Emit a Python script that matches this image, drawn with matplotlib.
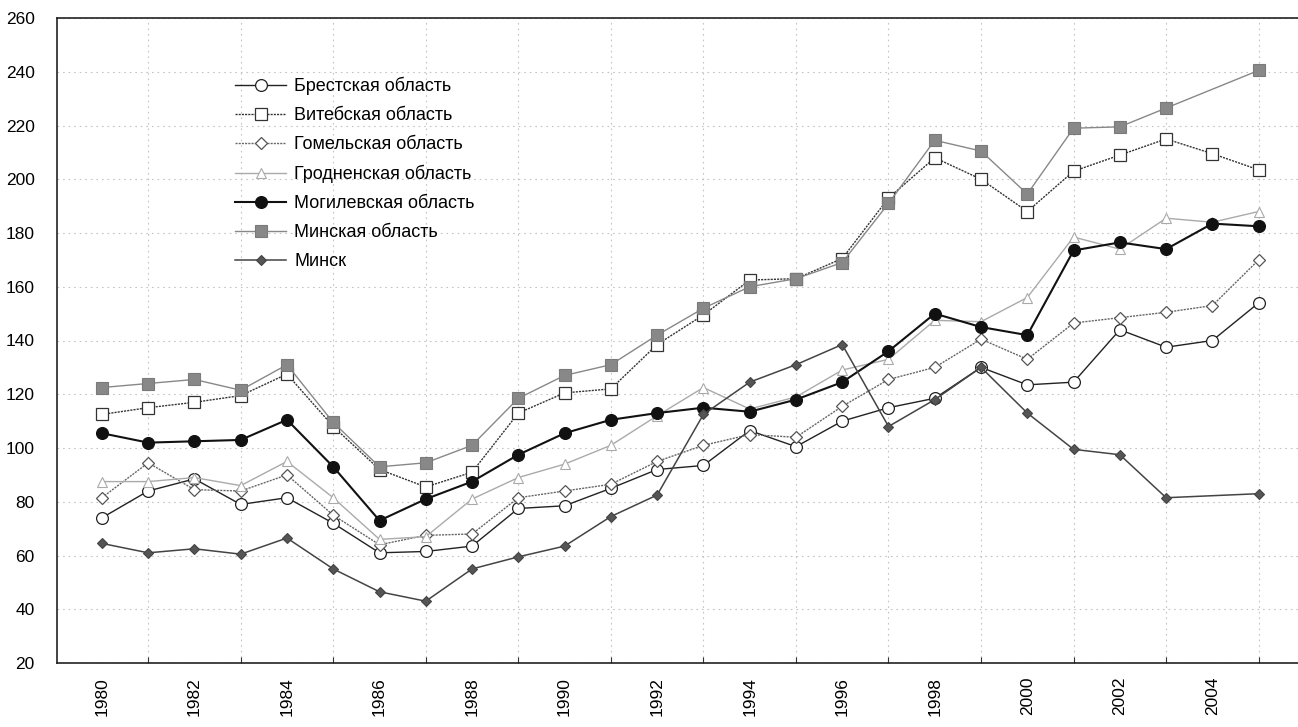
import numpy as np
import matplotlib
matplotlib.use("Agg")
import matplotlib.pyplot as plt

years = list(range(1980, 2006))

brest = [74, 84, 88.5, 79, 81.5, 72, 61, 61.5, 63.5, 77.5, 78.5, 85, 92, 93.5, 106.5, 100.5,
         110, 115, 118.5, 130, 123.5, 124.5, 144, 137.5, 140, 154]
vitebsk = [112.5, 115, 117, 119.5, 127.5, 108, 92, 85.5, 91, 113, 120.5, 122, 138.5, 149.5, 162.5, 163,
           170.5, 193, 208, 200, 188, 203, 209, 215, 209.5, 203.5]
gomel = [81.5, 94.5, 84.5, 84, 90, 75, 64, 67.5, 68, 81.5, 84, 86.5, 95, 101, 105, 104,
         115.5, 125.5, 130, 140.5, 133, 146.5, 148.5, 150.5, 153, 170]
grodno = [87.5, 87.5, 89, 86, 95, 81.5, 66, 67, 81, 89, 94, 101, 112, 122.5, 114.5, 119,
          129, 133, 147.5, 147, 156, 178.5, 174, 185.5, 184, 188]
mogilev = [105.5, 102, 102.5, 103, 110.5, 93, 73, 81, 87.5, 97.5, 105.5, 110.5, 113, 115, 113.5, 118,
           124.5, 136, 150, 145, 142, 173.5, 176.5, 174, 183.5, 182.5]
minsk_obl = [122.5, 124, 125.5, 121.5, 131, 109.5, 93, 94.5, 101, 118.5, 127, 131, 142, 152, 160, 163,
             169, 191, 214.5, 210.5, 194.5, 219, 219.5, 226.5, None, 240.5]
minsk = [64.5, 61, 62.5, 60.5, 66.5, 55, 46.5, 43, 55, 59.5, 63.5, 74.5, 82.5, 112.5, 124.5, 131,
         138.5, 108, 118, 130, 113, 99.5, 97.5, 81.5, None, 83]

labels = ["Брестская область", "Витебская область", "Гомельская область",
          "Гродненская область", "Могилевская область", "Минская область", "Минск"]
series = [brest, vitebsk, gomel, grodno, mogilev, minsk_obl, minsk]

styles = [
    dict(color="#222222", lw=1.0, ls="-", marker="o", ms=8.5, mfc="white", mec="#222222", mew=0.9),
    dict(color="#333333", lw=1.0, ls=(0, (1.5, 0.8)), marker="s", ms=8, mfc="white", mec="#333333", mew=0.9),
    dict(color="#666666", lw=1.0, ls=(0, (1.5, 0.8)), marker="D", ms=6, mfc="white", mec="#555555", mew=0.9),
    dict(color="#aaaaaa", lw=1.0, ls="-", marker="^", ms=7.5, mfc="white", mec="#aaaaaa", mew=0.8),
    dict(color="#111111", lw=1.5, ls="-", marker="o", ms=8.5, mfc="#111111", mec="#111111", mew=0.9),
    dict(color="#888888", lw=1.0, ls="-", marker="s", ms=8, mfc="#888888", mec="#7a7a7a", mew=0.8),
    dict(color="#444444", lw=1.1, ls="-", marker="D", ms=5.5, mfc="#555555", mec="#444444", mew=0.8),
]

plt.rcParams['font.family'] = ['Liberation Sans', 'DejaVu Sans']

fig = plt.figure(figsize=(12.98, 7.27), dpi=100)
ax = fig.add_axes([57/1298, 1 - 663/727, 1 - 57/1298, (663 - 18)/727])

for lab, vals, st in zip(labels, series, styles):
    xs = [y for y, v in zip(years, vals) if v is not None]
    ys = [v for v in vals if v is not None]
    ax.plot(xs, ys, label=lab, **st)

ax.set_ylim(20, 260)
ax.set_xlim(1979.03, 2005.85)
ax.set_yticks(np.arange(20, 261, 20))
ax.set_xticks(np.arange(1981, 2006, 2))
ax.set_xticklabels([])
ax.set_xticks(np.arange(1980, 2005, 2), minor=True)
ax.set_xticklabels([str(y) for y in range(1980, 2005, 2)], minor=True, rotation=90, fontsize=12.5)
ax.tick_params(axis='x', which='minor', length=0, pad=10)
ax.tick_params(axis='x', which='major', direction='in', length=4, color='#333333')
ax.tick_params(axis='y', direction='in', length=0, labelsize=12.5, pad=16)

ax.grid(True, which='major', color='#c4c4c4', ls=(0, (1.5, 3.5)), lw=0.8)
ax.spines['right'].set_visible(False)
for s in ['left', 'bottom', 'top']:
    ax.spines[s].set_color('#222222')
    ax.spines[s].set_linewidth(1.2)

leg = ax.legend(loc='upper left', bbox_to_anchor=(0.138, 0.92), frameon=False,
                fontsize=13, handlelength=2.8, labelspacing=0.66, handletextpad=0.45,
                borderaxespad=0)

fig.savefig("out.png", dpi=100)
